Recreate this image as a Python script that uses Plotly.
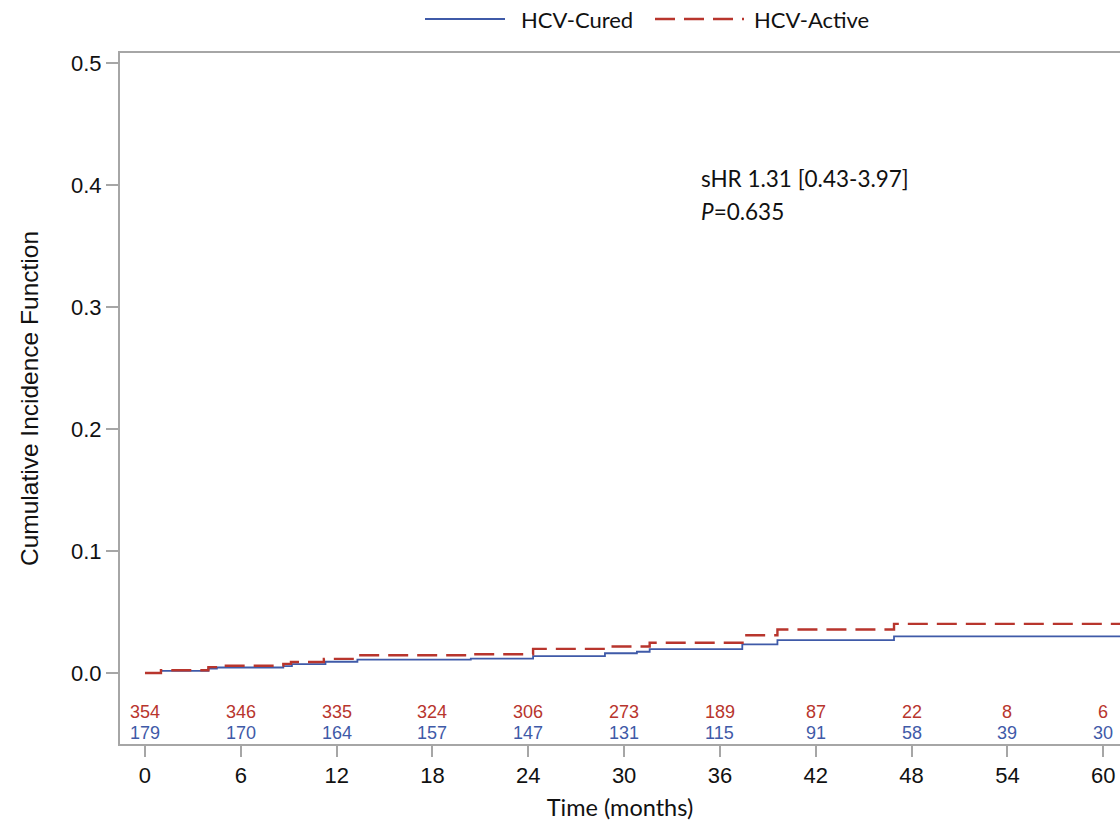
import plotly.graph_objects as go

# ---- data ----
cured_t = [0, 1.0, 3.97, 4.5, 8.66, 9.2, 11.3, 13.3, 20.4, 24.3, 28.8, 30.8, 31.6, 37.4, 39.6, 46.9, 61.5]
cured_v = [0, 0.0018, 0.0037, 0.0045, 0.0056, 0.0072, 0.0092, 0.0110, 0.0117, 0.0138, 0.0162, 0.0174, 0.0195, 0.0234, 0.0270, 0.0300, 0.0300]

active_t = [0, 1.0, 3.97, 4.9, 8.66, 9.14, 11.2, 13.3, 20.4, 24.3, 28.8, 31.6, 37.5, 39.6, 46.9, 61.5]
active_v = [0, 0.0022, 0.0048, 0.0060, 0.0075, 0.0090, 0.0116, 0.0146, 0.0154, 0.0198, 0.0217, 0.0248, 0.0310, 0.0357, 0.0403, 0.0403]

risk_times = [0, 6, 12, 18, 24, 30, 36, 42, 48, 54, 60]
risk_active = [354, 346, 335, 324, 306, 273, 189, 87, 22, 8, 6]
risk_cured = [179, 170, 164, 157, 147, 131, 115, 91, 58, 39, 30]

y_ticks = [0.0, 0.1, 0.2, 0.3, 0.4, 0.5]

BLUE = "#3F5AA8"
RED = "#B8352D"
GRAY = "#A6A6A6"
CAL = "Lato, 'Open Sans', sans-serif"
ARIAL = "'Liberation Sans', Arial, sans-serif"

fig = go.Figure()
fig.add_trace(go.Scatter(x=cured_t, y=cured_v, mode="lines", name="HCV-Cured",
                         line=dict(color=BLUE, width=1.8, shape="hv")))
fig.add_trace(go.Scatter(x=active_t, y=active_v, mode="lines", name="HCV-Active",
                         line=dict(color=RED, width=2.4, shape="hv", dash="20px,9px")))

annotations = []
for t, a, c in zip(risk_times, risk_active, risk_cured):
    annotations.append(dict(x=t, y=-0.032, xref="x", yref="y", text=str(a), showarrow=False,
                            font=dict(family=ARIAL, size=18, color=RED), xanchor="center", yanchor="middle"))
    annotations.append(dict(x=t, y=-0.049, xref="x", yref="y", text=str(c), showarrow=False,
                            font=dict(family=ARIAL, size=18, color=BLUE), xanchor="center", yanchor="middle"))

annotations.append(dict(x=34.7, y=0.4057, xref="x", yref="y", text="sHR 1.31 [0.43-3.97]", showarrow=False,
                        font=dict(family=CAL, size=22.5, color="#111"), xanchor="left", yanchor="middle"))
annotations.append(dict(x=34.7, y=0.378, xref="x", yref="y", text="<i>P</i>=0.635", showarrow=False,
                        font=dict(family=CAL, size=22.5, color="#111"), xanchor="left", yanchor="middle"))

# manual legend (top)
LEG_Y = (744 - 19) / 691
shapes = [
    dict(type="line", xref="paper", yref="paper", x0=(425 - 120) / 1000, x1=(505 - 120) / 1000,
         y0=LEG_Y, y1=LEG_Y, line=dict(color=BLUE, width=1.8)),
    dict(type="line", xref="paper", yref="paper", x0=(655 - 120) / 1000, x1=(744 - 120) / 1000,
         y0=LEG_Y, y1=LEG_Y, line=dict(color=RED, width=2.4, dash="20px,9px")),
]
annotations.append(dict(x=(519 - 120) / 1000, y=LEG_Y, xref="paper", yref="paper", text="HCV-Cured",
                        showarrow=False, xanchor="left", yanchor="middle",
                        font=dict(family=CAL, size=22, color="#111")))
annotations.append(dict(x=(752 - 120) / 1000, y=LEG_Y, xref="paper", yref="paper", text="HCV-Active",
                        showarrow=False, xanchor="left", yanchor="middle",
                        font=dict(family=CAL, size=22, color="#111")))

fig.update_layout(
    width=1120, height=824,
    margin=dict(l=120, r=0, t=53, b=80),
    paper_bgcolor="white", plot_bgcolor="white",
    showlegend=False,
    annotations=annotations,
    shapes=shapes,
    xaxis=dict(range=[-1.565, 61.05], tickvals=risk_times, ticktext=[str(t) for t in risk_times],
               automargin=False,
               showgrid=False, zeroline=False, showline=True, linecolor=GRAY, linewidth=2, mirror=True,
               ticks="outside", ticklen=11, tickwidth=2, tickcolor=GRAY,
               tickfont=dict(family=ARIAL, size=22, color="#111"),
               title=dict(text="Time (months)", font=dict(family=CAL, size=23.5, color="#111"), standoff=12)),
    yaxis=dict(range=[-0.0582, 0.5082], tickvals=y_ticks, ticktext=[f"{v:.1f}" for v in y_ticks],
               automargin=False,
               showgrid=False, zeroline=False, showline=True, linecolor=GRAY, linewidth=2,
               ticks="outside", ticklen=12, tickwidth=2, tickcolor=GRAY,
               tickfont=dict(family=ARIAL, size=22, color="#111"),
               title=dict(text="Cumulative Incidence Function", font=dict(family=ARIAL, size=24.5, color="#111"),
                          standoff=25)),
)

fig.write_html("out.html", config={"displayModeBar": False},
               post_script="document.body.style.margin='0px';document.body.style.overflow='hidden';")
